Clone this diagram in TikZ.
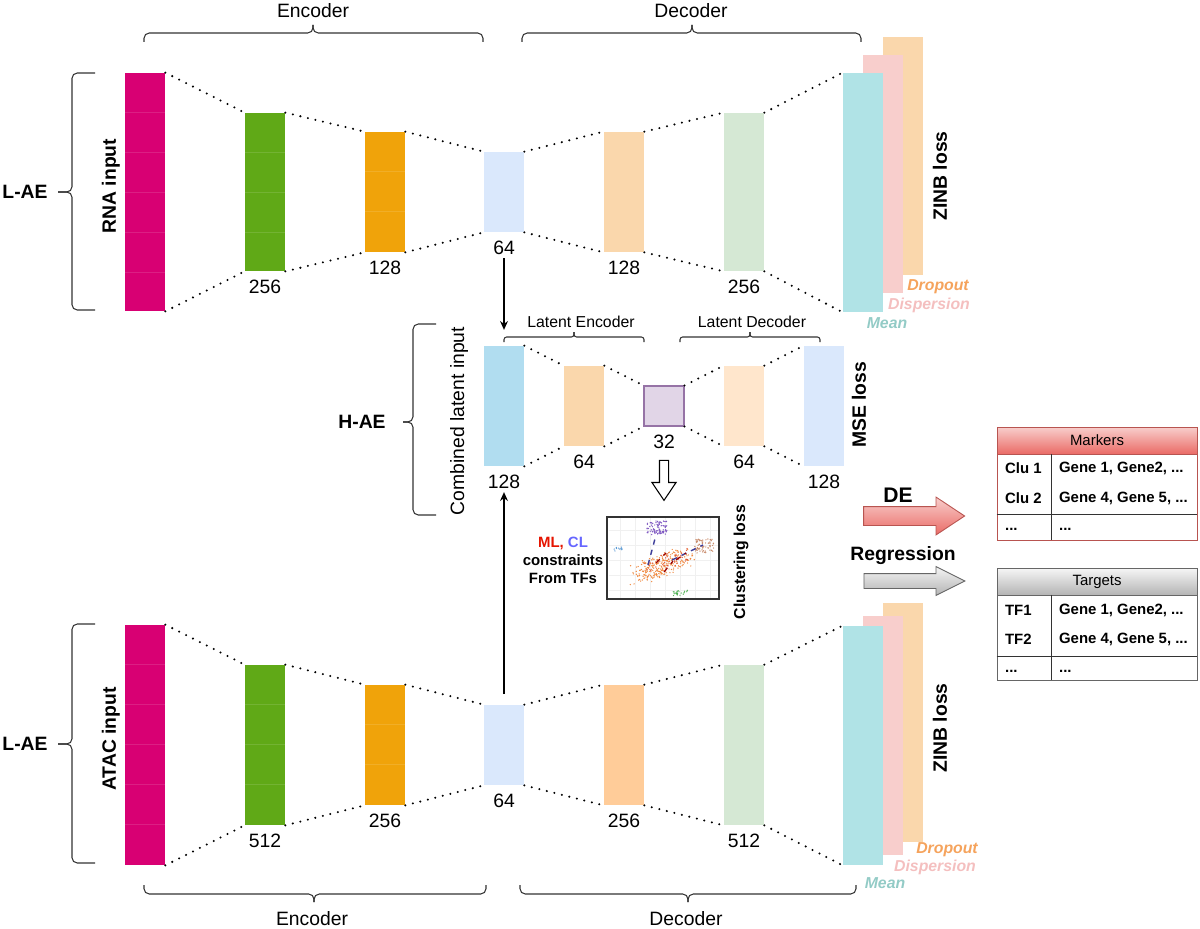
\documentclass[tikz,border=0pt]{standalone}
\usepackage{fontspec}
\setmainfont{Liberation Sans}
\usepackage{tikz}
\usetikzlibrary{positioning,arrows.meta,shapes.arrows}

\definecolor{rnapink}{HTML}{D80073}
\definecolor{encgreen}{HTML}{60A917}
\definecolor{encorange}{HTML}{F0A30A}
\definecolor{latblue}{HTML}{DAE8FC}
\definecolor{decpeach}{HTML}{FAD7AC}
\definecolor{decgreen}{HTML}{D5E8D4}
\definecolor{bdecpeach}{HTML}{FFCC99}
\definecolor{meanc}{HTML}{B0E3E6}
\definecolor{dispc}{HTML}{F8CECC}
\definecolor{dropc}{HTML}{FAD7AC}
\definecolor{hinblue}{HTML}{B1DDF0}
\definecolor{zpurple}{HTML}{E1D5E7}
\definecolor{zline}{HTML}{9673A6}
\definecolor{hdepeach}{HTML}{FFE6CC}
\definecolor{meantxt}{HTML}{93CBC6}
\definecolor{disptxt}{HTML}{F4BFBF}
\definecolor{droptxt}{HTML}{F5A35C}
\definecolor{mkline}{HTML}{B85450}
\definecolor{mktop}{HTML}{F8CECC}
\definecolor{mkbot}{HTML}{EA6B66}
\definecolor{tgline}{HTML}{666666}
\definecolor{tgtop}{HTML}{F5F5F5}
\definecolor{tgbot}{HTML}{B3B3B3}
\definecolor{mlred}{HTML}{E51400}
\definecolor{clblue}{HTML}{6666FF}
\definecolor{ptpurple}{HTML}{7E57C2}
\definecolor{ptblue}{HTML}{5B9BD5}
\definecolor{ptorange}{HTML}{F0883E}
\definecolor{ptred}{HTML}{E0553A}
\definecolor{ptbrown}{HTML}{C98B6B}
\definecolor{ptgreen}{HTML}{4CAF50}

\tikzset{
  layer/.style={rectangle, inner sep=0pt, minimum width=0.8cm, fill=#1},
  tall/.style={minimum height=#1*0.02cm},
  link/.style={line width=1.3pt, line cap=round, dash pattern=on 0pt off 4.4pt},
  cell/.style={white, opacity=0.12, line width=0.5pt},
  curly/.style={rounded corners=#1, line width=0.6pt, draw=black!80},
  curly/.default=3pt,
  lbl/.style={font=\fontsize{11}{13}\selectfont, inner sep=1pt},
  num/.style={font=\fontsize{11}{13}\selectfont, inner sep=2pt},
  bold/.style={font=\fontsize{11}{13}\selectfont\bfseries, inner sep=1pt},
  small/.style={font=\fontsize{9}{11}\selectfont, inner sep=1pt},
  outname/.style={font=\fontsize{9}{11}\selectfont\bfseries\itshape, inner sep=1pt, text=#1},
  tabtxt/.style={font=\fontsize{8.5}{10}\selectfont\bfseries, inner sep=1pt, anchor=west},
  hdr/.style={rectangle, minimum width=4cm, minimum height=0.54cm, inner sep=0pt,
    font=\fontsize{8.5}{10}\selectfont},
  tbody/.style={rectangle, minimum width=4cm, inner sep=0pt},
  bigarrow/.style={single arrow, inner xsep=0pt, minimum height=2.02cm},
  tip/.style={-{Stealth[length=5pt,width=4.5pt]}, line width=0.6pt},
  dot/.style={fill=#1},
}

\begin{document}
\begin{tikzpicture}[x=0.02cm, y=-0.02cm]
  \useasboundingbox (0,0) rectangle (1200,929);

  % ---------- RNA autoencoder ----------
  \node[layer=rnapink, tall=238] (rna) at (145,192) {};
  \node[layer=encgreen, tall=158] (tenc1) at (265,192) {};
  \node[layer=encorange, tall=120] (tenc2) at (385,192) {};
  \node[layer=latblue, tall=80] (tlat) at (504,192) {};
  \node[layer=decpeach, tall=120] (tdec1) at (624,192) {};
  \node[layer=decgreen, tall=158] (tdec2) at (744,192) {};
  \node[layer=dropc, tall=238] (tdrop) at (903,156) {};
  \node[layer=dispc, tall=238] (tdisp) at (883,174) {};
  \node[layer=meanc, tall=239] (tmean) at (863,192.5) {};

  \foreach \k in {1,...,5}
    \draw[cell] ([yshift=-\k*0.8cm]rna.north west) -- ([yshift=-\k*0.8cm]rna.north east);
  \foreach \k in {1,...,3}
    \draw[cell] ([yshift=-\k*0.8cm]tenc1.north west) -- ([yshift=-\k*0.8cm]tenc1.north east);
  \foreach \k in {1,2}
    \draw[cell] ([yshift=-\k*0.8cm]tenc2.north west) -- ([yshift=-\k*0.8cm]tenc2.north east);

  \foreach \a/\b in {rna/tenc1, tenc1/tenc2, tenc2/tlat, tlat/tdec1, tdec1/tdec2, tdec2/tmean}{
    \draw[link] (\a.north east) -- (\b.north west);
    \draw[link] (\a.south east) -- (\b.south west);
  }

  \node[num, below=2.5pt of tenc1] (tn1) {256};
  \node[num, below=2.5pt of tenc2] (tn2) {128};
  \node[num, below=2.5pt of tlat] (tn3) {64};
  \node[num, below=2.5pt of tdec1] (tn4) {128};
  \node[num, below=2.5pt of tdec2] (tn5) {256};

  \node[bold, rotate=90] (rnain) at (111,186) {RNA input};
  \node[bold, rotate=90] (tzinb) at (940,176) {ZINB loss};
  \node[outname=droptxt] (tdropl) at (938,287) {Dropout};
  \node[outname=disptxt] (tdispl) at (929,305) {Dispersion};
  \node[outname=meantxt] (tmeanl) at (887,323) {Mean};

  \draw[curly] (144,42) |- (313,33) -- (313,25);
  \draw[curly] (483,42) |- (313,33) -- (313,25);
  \draw[curly] (522,42) |- (692,33) -- (692,25);
  \draw[curly] (861,42) |- (692,33) -- (692,25);
  \node[lbl] (tenc) at (313,11) {Encoder};
  \node[lbl] (tdec) at (691,11) {Decoder};

  \draw[curly] (95,73) -| (72,192) -- (58,192);
  \draw[curly] (95,310) -| (72,192) -- (58,192);
  \node[bold] (tlae) at (25,192) {L-AE};

  % ---------- H-AE ----------
  \node[layer=hinblue, tall=120] (hin) at (504,406) {};
  \node[layer=decpeach, tall=80] (hen) at (584,406) {};
  \node[layer=zpurple, draw=zline, line width=0.6pt, minimum width=0.8cm, minimum height=0.8cm] (hz) at (664,406) {};
  \node[layer=hdepeach, tall=80] (hde) at (744,406) {};
  \node[layer=latblue, tall=120] (hout) at (824,406) {};

  \foreach \a/\b in {hin/hen, hen/hz, hz/hde, hde/hout}{
    \draw[link] (\a.north east) -- (\b.north west);
    \draw[link] (\a.south east) -- (\b.south west);
  }

  \node[num, below=2.5pt of hin] (hn1) {128};
  \node[num, below=2.5pt of hen] (hn2) {64};
  \node[num, below=2.5pt of hz] (hn3) {32};
  \node[num, below=2.5pt of hde] (hn4) {64};
  \node[num, below=2.5pt of hout] (hn5) {128};

  \draw[curly=1.5pt] (504,342) |- (574,337) -- (574,332);
  \draw[curly=1.5pt] (644,342) |- (574,337) -- (574,332);
  \draw[curly=1.5pt] (680,342) |- (750,337) -- (750,332);
  \draw[curly=1.5pt] (820,342) |- (750,337) -- (750,332);
  \node[small] (lenc) at (581,322) {Latent Encoder};
  \node[small] (ldec) at (752,322) {Latent Decoder};

  \draw[curly] (436,324) -| (413,422) -- (403,422);
  \draw[curly] (436,515) -| (413,422) -- (403,422);
  \node[bold] (hae) at (362,422) {H-AE};
  \node[lbl, rotate=90] (comb) at (459,421) {Combined latent input};
  \node[bold, rotate=90] (mse) at (859,405) {MSE loss};

  \draw[tip] (tn3.south) -- ([yshift=9pt]hin.north);

  % clustering
  \node[single arrow, shape border rotate=270, draw=black, fill=white, line width=0.6pt,
    inner xsep=0.08cm, inner ysep=0pt, minimum height=0.8cm,
    single arrow head extend=0.15cm, single arrow tip angle=68] (down) at (664,477) {};

  \node[rectangle, draw=black!80, line width=0.7pt, fill=white, minimum width=2.24cm,
    minimum height=1.64cm, inner sep=0pt] (plot) at (663,558) {};
  \foreach \gx in {620,635,...,710}
    \draw[black!6, line width=0.3pt] (\gx,518) -- (\gx,598);
  \foreach \gy in {530,545,...,590}
    \draw[black!6, line width=0.3pt] (609,\gy) -- (718,\gy);
  \pgfmathsetseed{11}
  \foreach \i in {1,...,90}
    \fill[dot=ptpurple] ({657+10*rand},{528+7*rand}) circle (0.4pt);
  \foreach \i in {1,...,12}
    \fill[dot=ptblue] ({618+4*rand},{549+2*rand}) circle (0.4pt);
  \foreach \i in {1,...,70}
    \fill[dot=ptbrown] ({704+10*rand},{546+7*rand}) circle (0.4pt);
  \foreach \i in {1,...,20}
    \fill[dot=ptgreen] ({681+8*rand},{593+3*rand}) circle (0.4pt);
  \foreach \i in {1,...,260}{
    \pgfmathsetmacro\t{rnd}
    \fill[dot=ptorange] ({638+48*\t+9*rand},{575-20*\t+10*rand}) circle (0.4pt);
  }
  \foreach \i in {1,...,40}{
    \pgfmathsetmacro\t{rnd}
    \fill[dot=ptred] ({648+36*\t+7*rand},{570-16*\t+7*rand}) circle (0.4pt);
  }
  \draw[clblue!60!black, dashed, line width=0.8pt] (648,565) -- (656,535);
  \draw[clblue!60!black, dashed, line width=0.8pt] (672,560) -- (703,545);
  \draw[red!60!black, dashed, line width=0.7pt] (656,563) -- (666,553);
  \draw[red!60!black, dashed, line width=0.7pt] (664,572) -- (673,561);
  \draw[red!60!black, dashed, line width=0.7pt] (676,560) -- (686,553);

  \node[font=\fontsize{8.5}{10.2}\selectfont\bfseries, align=center, inner sep=1pt] (mlcl) at (563,560)
    {\textcolor{mlred}{ML,} \textcolor{clblue}{CL}\\constraints\\From TFs};
  \node[font=\fontsize{9}{11}\selectfont\bfseries, rotate=90, inner sep=1pt] (closs) at (741,562) {Clustering loss};

  % ---------- ATAC autoencoder ----------
  \node[layer=rnapink, tall=240] (atac) at (145,745) {};
  \node[layer=encgreen, tall=160] (benc1) at (265,745) {};
  \node[layer=encorange, tall=120] (benc2) at (385,745) {};
  \node[layer=latblue, tall=80] (blat) at (504,745) {};
  \node[layer=bdecpeach, tall=120] (bdec1) at (624,745) {};
  \node[layer=decgreen, tall=160] (bdec2) at (744,745) {};
  \node[layer=dropc, tall=239] (bdrop) at (903,722.5) {};
  \node[layer=dispc, tall=239] (bdisp) at (883,735.5) {};
  \node[layer=meanc, tall=239] (bmean) at (863,745.5) {};

  \foreach \k in {1,...,5}
    \draw[cell] ([yshift=-\k*0.8cm]atac.north west) -- ([yshift=-\k*0.8cm]atac.north east);
  \foreach \k in {1,...,3}
    \draw[cell] ([yshift=-\k*0.8cm]benc1.north west) -- ([yshift=-\k*0.8cm]benc1.north east);
  \foreach \k in {1,2}
    \draw[cell] ([yshift=-\k*0.8cm]benc2.north west) -- ([yshift=-\k*0.8cm]benc2.north east);

  \foreach \a/\b in {atac/benc1, benc1/benc2, benc2/blat, blat/bdec1, bdec1/bdec2, bdec2/bmean}{
    \draw[link] (\a.north east) -- (\b.north west);
    \draw[link] (\a.south east) -- (\b.south west);
  }

  \node[num, below=2.5pt of benc1] (bn1) {512};
  \node[num, below=2.5pt of benc2] (bn2) {256};
  \node[num, below=2.5pt of blat] (bn3) {64};
  \node[num, below=2.5pt of bdec1] (bn4) {256};
  \node[num, below=2.5pt of bdec2] (bn5) {512};

  \node[bold, rotate=90] (atacin) at (111,739) {ATAC input};
  \node[bold, rotate=90] (bzinb) at (940,728) {ZINB loss};
  \node[outname=droptxt] (bdropl) at (947,850) {Dropout};
  \node[outname=disptxt] (bdispl) at (935,867) {Dispersion};
  \node[outname=meantxt] (bmeanl) at (885,883) {Mean};

  \draw[curly] (144,885) |- (314,894) -- (314,902);
  \draw[curly] (486,885) |- (314,894) -- (314,902);
  \draw[curly] (520,885) |- (688,894) -- (688,902);
  \draw[curly] (856,885) |- (688,894) -- (688,902);
  \node[lbl] (benc) at (312,919) {Encoder};
  \node[lbl] (bdec) at (686,919) {Decoder};

  \draw[curly] (95,624) -| (72,744) -- (58,744);
  \draw[curly] (95,863) -| (72,744) -- (58,744);
  \node[bold] (blae) at (25,744) {L-AE};

  \draw[tip] ([yshift=6pt]blat.north) -- (hn1.south);

  % ---------- downstream ----------
  \node[bigarrow, draw=mkline, top color=mktop, bottom color=mkbot, line width=0.5pt,
    inner ysep=0.18cm, single arrow head extend=0.19cm, single arrow tip angle=67] (de) at (907,516) {};
  \node[font=\fontsize{12}{14}\selectfont\bfseries, inner sep=1pt] (del) at (898,495) {DE};
  \node[bigarrow, draw=tgline, top color=tgtop, bottom color=tgbot, line width=0.5pt,
    inner ysep=0.14cm, single arrow head extend=0.14cm, single arrow tip angle=53] (reg) at (907,581) {};
  \node[bold] (regl) at (903,556) {Regression};

  \node[hdr, draw=mkline, top color=mktop, bottom color=mkbot] (mkhead) at (1097,440.5) {Markers};
  \node[tbody, draw=mkline, minimum height=1.72cm] (mkbody) at (1097,497) {};
  \draw[black!80, line width=0.6pt] ([xshift=1.1cm]mkbody.north west) -- ([xshift=1.1cm]mkbody.south west);
  \draw[black!80, line width=0.6pt] ([yshift=0.52cm]mkbody.south west) -- ([yshift=0.52cm]mkbody.south east);
  \node[tabtxt] (mk1) at (1003,468) {Clu 1};
  \node[tabtxt] (mk2) at (1003,498) {Clu 2};
  \node[tabtxt] (mk3) at (1003,529) {...};
  \node[tabtxt] (mg1) at (1057,468) {Gene 1, Gene2, ...};
  \node[tabtxt] (mg2) at (1057,498) {Gene 4, Gene 5, ...};
  \node[tabtxt] (mg3) at (1057,529) {...};

  \node[hdr, draw=tgline, top color=tgtop, bottom color=tgbot] (tghead) at (1097,582) {Targets};
  \node[tbody, draw=tgline, minimum height=1.7cm] (tgbody) at (1097,637.5) {};
  \draw[black!80, line width=0.6pt] ([xshift=1.1cm]tgbody.north west) -- ([xshift=1.1cm]tgbody.south west);
  \draw[black!80, line width=0.6pt] ([yshift=0.48cm]tgbody.south west) -- ([yshift=0.48cm]tgbody.south east);
  \node[tabtxt] (tf1) at (1003,610) {TF1};
  \node[tabtxt] (tf2) at (1003,639) {TF2};
  \node[tabtxt] (tf3) at (1003,671) {...};
  \node[tabtxt] (tg1) at (1057,610) {Gene 1, Gene2, ...};
  \node[tabtxt] (tg2) at (1057,639) {Gene 4, Gene 5, ...};
  \node[tabtxt] (tg3) at (1057,671) {...};
\end{tikzpicture}
\end{document}
